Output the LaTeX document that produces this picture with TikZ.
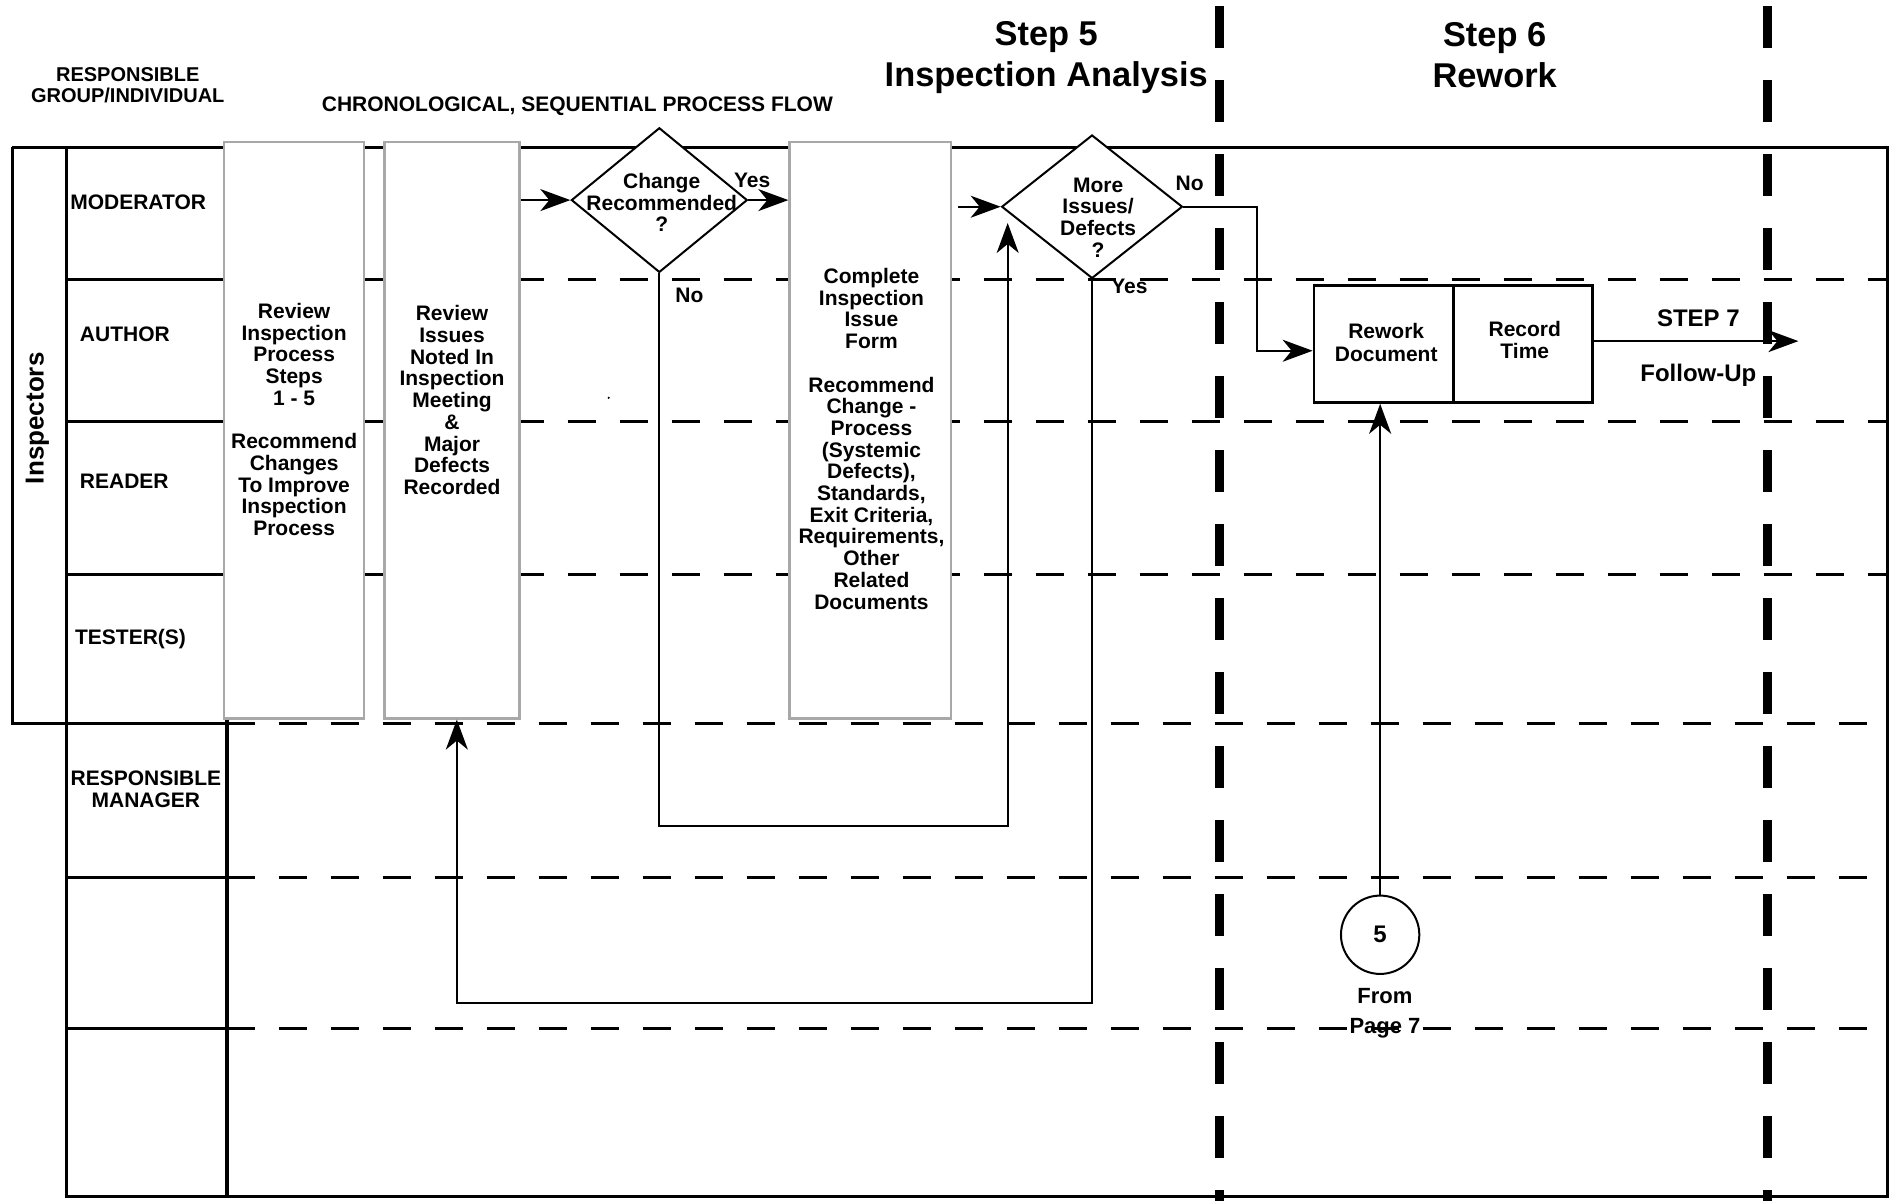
\documentclass[tikz,border=0pt]{standalone}
\usepackage{fontspec}
\setmainfont{Liberation Sans}
\usetikzlibrary{arrows.meta,shapes.geometric}
\definecolor{boxgray}{gray}{0.66}
\newdimen\pxu \pxu=0.6027pt

\begin{document}
\begin{tikzpicture}[x=0.6027pt,y=-0.6027pt,
  every node/.style={inner sep=0pt, font=\bfseries},
  frame/.style={line width=1.5pt},
  lane/.style={line width=1.5pt, dash pattern=on 14pt off 12pt},
  stagebar/.style={line width=4.5pt, dash pattern=on 21pt off 16pt},
  taskbox/.style={rectangle, draw=boxgray, fill=white, line width=1.2pt},
  workbox/.style={rectangle, draw, fill=white, line width=1.2pt},
  decision/.style={diamond, draw, fill=white, line width=1pt},
  flow/.style={line width=1pt},
  arr/.style={flow, -{Stealth[length=15pt,width=11pt,inset=4.5pt]}},
  body/.style={align=center, font=\fontsize{10.5}{10.85}\selectfont\bfseries},
  small/.style={font=\fontsize{10.5}{12}\selectfont\bfseries},
  role/.style={anchor=west, font=\fontsize{10.5}{12}\selectfont\bfseries},
  title/.style={align=center, font=\fontsize{17.2}{20.5}\selectfont\bfseries},
  steplabel/.style={font=\fontsize{12}{14}\selectfont\bfseries}
]
\useasboundingbox (0,0) rectangle (1568,996);

% swim-lane grid: solid in the role column, dashed across the flow
\foreach \yy in {232,350,477,728,853} \draw[frame] (55,\yy) -- (188,\yy);
\foreach \yy in {232,350,477} \draw[lane, dash phase=11.5pt] (188,\yy) -- (1566,\yy);
\foreach \yy in {600,728,853} \draw[lane] (188,\yy) -- (1566,\yy);

% outer frame and the inspectors group
\draw[frame] (10,122) -- (1566,122) -- (1566,993) -- (55,993) -- (55,122);
\draw[frame] (10,122) -- (10,600) -- (188,600);
\draw[line width=2pt] (188,596) -- (188,993);

% step separators
\draw[stagebar] (1012,5) -- (1012,996);
\draw[stagebar] (1466,5) -- (1466,996);

% headings
\node[align=center, font=\fontsize{10}{10.25}\selectfont\bfseries] (grp) at (106,70.5) {RESPONSIBLE\\GROUP/INDIVIDUAL};
\node[small] (flowhdr) at (479,88) {CHRONOLOGICAL, SEQUENTIAL PROCESS FLOW};
\node[title] (step5) at (868,47.5) {Step 5\\Inspection Analysis};
\node[title] (step6) at (1240,46) {Step 6\\Rework};

% roles
\node[rotate=90, font=\fontsize{13}{14}\selectfont\bfseries] (insp) at (31,347) {Inspectors};
\node[role] (mod) at (58,168) {MODERATOR};
\node[role] (auth) at (66,277) {AUTHOR};
\node[role] (read) at (66,399) {READER};
\node[role] (test) at (62,530) {TESTER(S)};
\node[align=center, font=\fontsize{10.5}{10.85}\selectfont\bfseries] (mgr) at (121,655) {RESPONSIBLE\\MANAGER};

% activity boxes
\node[taskbox, minimum width=116\pxu, minimum height=478\pxu] (b1) at (244,357) {};
\node[taskbox, minimum width=112\pxu, minimum height=478\pxu] (b2) at (375,357) {};
\node[taskbox, minimum width=134\pxu, minimum height=478\pxu] (b3) at (722,357) {};
\node[body] (t1) at (244,348) {Review\\Inspection\\Process\\Steps\\1 - 5\\[10.85pt]Recommend\\Changes\\To Improve\\Inspection\\Process};
\node[body] (t2) at (375,332) {Review\\Issues\\Noted In\\Inspection\\Meeting\\\&\\Major\\Defects\\Recorded};
\node[body] (t3) at (723,364) {Complete\\Inspection\\Issue\\Form\\[10.85pt]Recommend\\Change -\\Process\\(Systemic\\Defects),\\Standards,\\Exit Criteria,\\Requirements,\\Other\\Related\\Documents};
\fill (505,330) circle (1);

% decisions
\node[decision, minimum width=146\pxu, minimum height=120\pxu] (d1) at (547,166) {};
\node[body] (d1t) at (549,168) {Change\\Recommended\\?};
\node[decision, minimum width=150\pxu, minimum height=119\pxu] (d2) at (906,171.5) {};
\node[body] (d2t) at (911,180.5) {More\\Issues/\\Defects\\?};

\node[small] (yes1) at (624,150) {Yes};
\node[small] (no1) at (572,245) {No};
\node[small] (no2) at (987,152) {No};
\node[small] (yes2) at (937,238) {Yes};

% rework
\node[workbox, minimum width=116\pxu, minimum height=97\pxu] (rw) at (1148,285.5) {};
\node[workbox, minimum width=115\pxu, minimum height=97\pxu] (rt) at (1263.5,285.5) {};
\node[body, font=\fontsize{10.5}{11.2}\selectfont\bfseries] (rwt) at (1150,284) {Rework\\Document};
\node[body, font=\fontsize{10.5}{11.2}\selectfont\bfseries] (rtt) at (1265,282) {Record\\Time};
\node[steplabel] (s7) at (1409,264) {STEP 7};
\node[steplabel] (fu) at (1409,311) {Follow-Up};

% off-page connector
\node[circle, draw, line width=1pt, fill=white, minimum size=65\pxu, font=\fontsize{12}{14}\selectfont\bfseries] (c5) at (1145,775.5) {5};
\node[align=center, font=\fontsize{11}{15}\selectfont\bfseries] (pg) at (1149,840.5) {From\\Page 7};

% connection points
\coordinate (noturn) at (836,685);
\coordinate (d2in) at (836,185);
\coordinate (yesturn) at (379,832);
\coordinate (noelbow) at (1043,291);
\coordinate (nextstep) at (1492,283);

% flow
\draw[arr] (b2.east |- d1.west) -- (d1.west);
\draw[arr] (d1.east) -- (d1.east -| b3.west);
\draw[arr, shorten <=3pt] (b3.east |- d2.west) -- (d2.west);
\draw[arr] (d1.south) |- (noturn) -- (d2in);
\draw[arr] (d2.south) |- (yesturn) -- (yesturn |- b2.south);
\draw[arr] (d2.east) -| (noelbow) -- (noelbow -| rw.west);
\draw[arr] (rt.east |- nextstep) -- (nextstep);
\draw[arr] (c5.north) -- (c5.north |- rw.south);
\end{tikzpicture}
\end{document}
